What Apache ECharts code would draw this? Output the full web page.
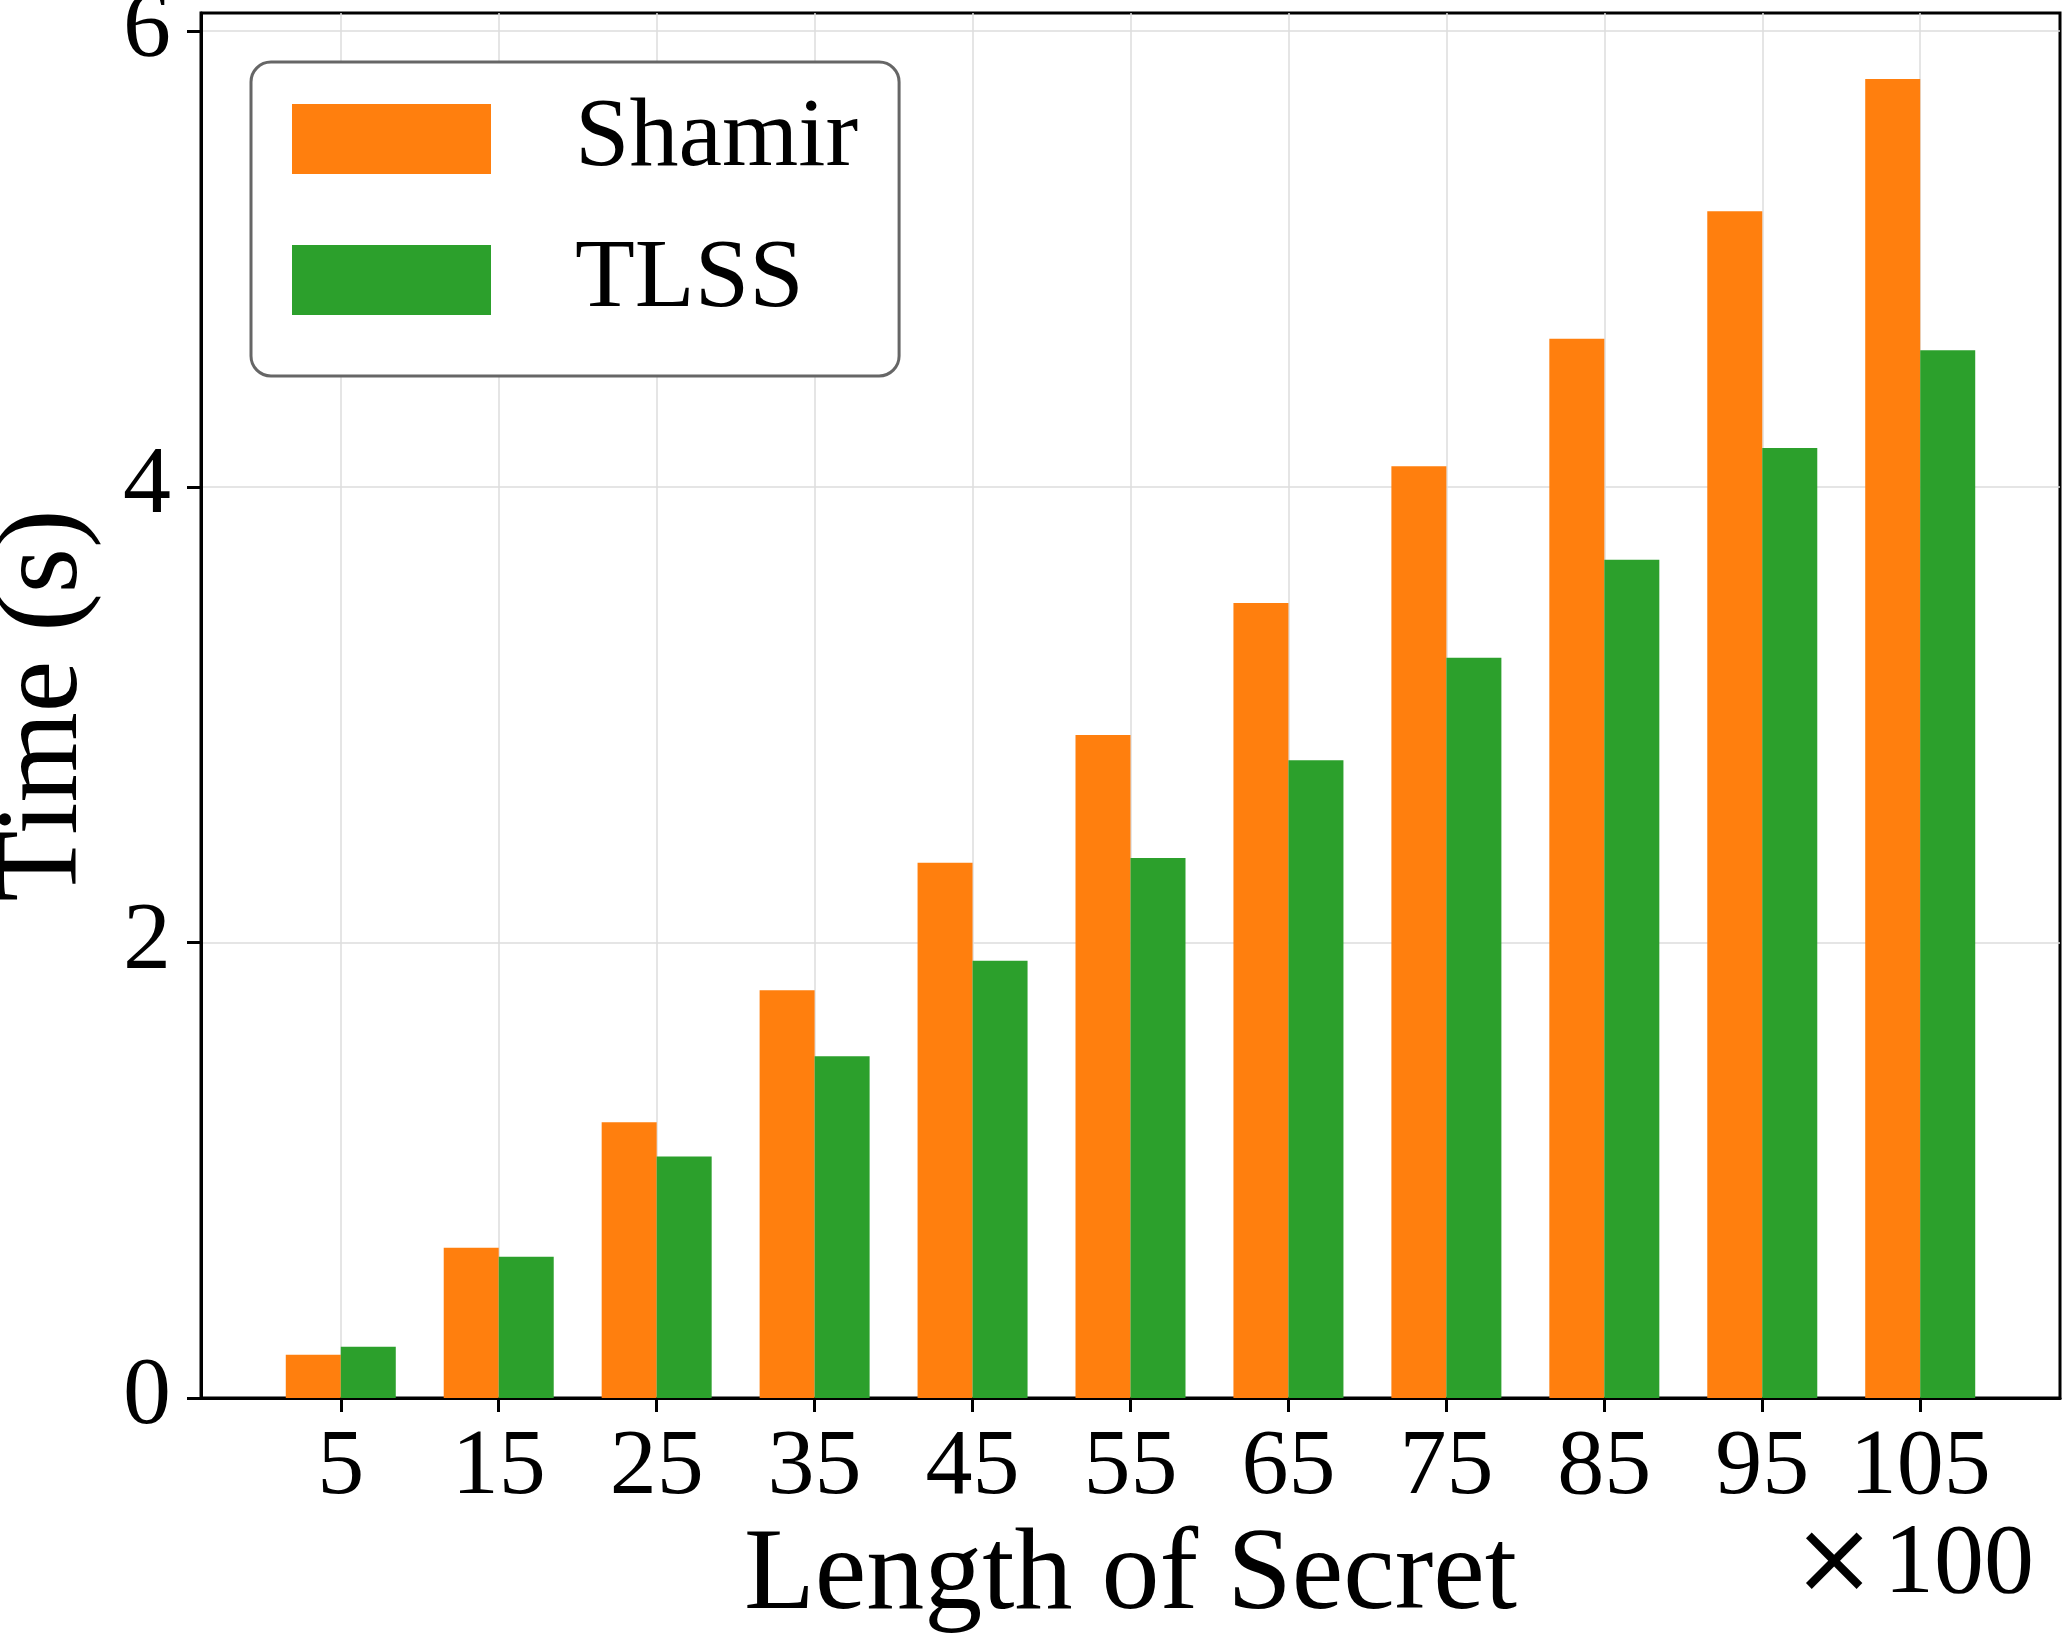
<!DOCTYPE html>
<html>
<head>
<meta charset="utf-8">
<script src="https://cdn.jsdelivr.net/npm/echarts@6/dist/echarts.min.js"></script>
<style>
  html, body { margin: 0; padding: 0; background: #fff; }
  #chart { width: 2064px; height: 1642px; }
</style>
</head>
<body>
<div id="chart"></div>
<script>
// secret length, in hundreds
const lengths = [5, 15, 25, 35, 45, 55, 65, 75, 85, 95, 105]
const shamirTime = [0.19, 0.66, 1.21, 1.79, 2.35, 2.91, 3.49, 4.09, 4.65, 5.21, 5.79]
const tlssTime = [0.225, 0.62, 1.06, 1.50, 1.92, 2.37, 2.80, 3.25, 3.68, 4.17, 4.60]
const yTicks = [0, 2, 4, 6]

const serif = 'Liberation Serif'
const gridColor = '#dcdcdc'

const chart = echarts.init(document.getElementById('chart'))

const option = {
  animation: false,
  backgroundColor: '#fff',
  grid: {
    left: 201,
    right: 4,
    top: 13,
    bottom: 244,
    outerBoundsMode: 'none',
    containLabel: false,
    show: true,
    borderColor: '#000',
    borderWidth: 3,
    backgroundColor: 'transparent',
  },
  legend: {
    left: 251,
    top: 62,
    orient: 'vertical',
    itemWidth: 199,
    itemHeight: 70,
    itemGap: 43,
    icon: 'rect',
    padding: [28, 41, 47, 41],
    backgroundColor: '#fff',
    borderColor: '#666',
    borderWidth: 3,
    borderRadius: 20,
    textStyle: {
      fontFamily: serif,
      fontSize: 98,
      color: '#000',
      padding: [0, 0, 0, 79],
    },
    data: ['Shamir', 'TLSS'],
  },
  xAxis: {
    type: 'value',
    min: -3.85,
    max: 113.85,
    name: 'Length of Secret',
    nameLocation: 'middle',
    nameGap: 121,
    nameTextStyle: { fontFamily: serif, fontSize: 116, color: '#000' },
    axisLine: { onZero: false, lineStyle: { color: '#000', width: 3 } },
    axisTick: {
      customValues: lengths,
      length: 14,
      lineStyle: { color: '#000', width: 3 },
    },
    axisLabel: {
      customValues: lengths,
      margin: 23,
      fontFamily: serif,
      fontSize: 94,
      color: '#000',
    },
    splitLine: { show: true, lineStyle: { color: gridColor, width: 1.5 } },
  },
  yAxis: {
    type: 'value',
    min: 0,
    max: 6.08,
    name: 'Time (s)',
    nameLocation: 'middle',
    nameGap: 97,
    nameTextStyle: { fontFamily: serif, fontSize: 116, color: '#000' },
    axisLine: { show: true, onZero: false, lineStyle: { color: '#000', width: 3 } },
    axisTick: {
      show: true,
      customValues: yTicks,
      length: 14,
      lineStyle: { color: '#000', width: 3 },
    },
    axisLabel: {
      customValues: yTicks,
      margin: 30,
      fontFamily: serif,
      fontSize: 96,
      color: '#000',
    },
    splitLine: { show: true, lineStyle: { color: gridColor, width: 1.5 } },
  },
  series: [
    {
      name: 'Shamir',
      type: 'bar',
      barWidth: 55,
      barGap: '0%',
      itemStyle: { color: '#ff7f0e' },
      data: lengths.map((x, i) => [x, shamirTime[i]]),
    },
    {
      name: 'TLSS',
      type: 'bar',
      barWidth: 55,
      barGap: '0%',
      itemStyle: { color: '#2ca02c' },
      data: lengths.map((x, i) => [x, tlssTime[i]]),
    },
  ],
  graphic: [
    {
      type: 'text',
      x: 2034,
      y: 1566,
      style: {
        text: '{x|×}{n|100}',
        align: 'right',
        verticalAlign: 'middle',
        rich: {
          x: { fontFamily: 'DejaVu Sans', fontSize: 100, fill: '#000', padding: [0, 8, 0, 0] },
          n: { fontFamily: serif, fontSize: 100, fill: '#000' },
        },
      },
    },
  ],
}

chart.setOption(option)
</script>
</body>
</html>
